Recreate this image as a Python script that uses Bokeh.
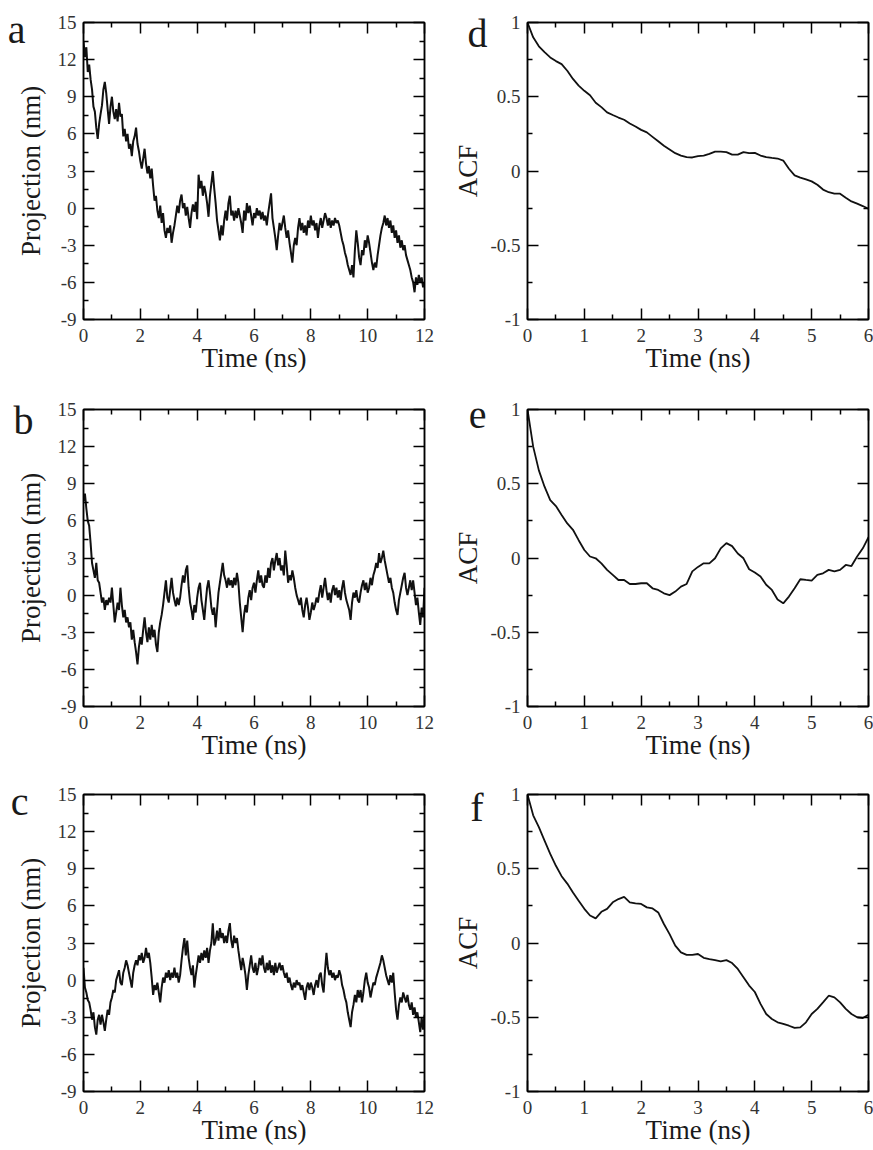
import numpy as np
from bokeh.plotting import figure
from bokeh.models import Range1d, FixedTicker, LinearAxis
from bokeh.layouts import column, row
from bokeh.embed import file_html
from bokeh.resources import INLINE

FONT = "Liberation Serif"

# ---------------- data ----------------
# projections, sampled every 0.05 ns from 0 to 12 ns
proj_a = [
    13.5, 12.2, 13.0, 11.0, 11.6, 10.4, 9.6, 8.2, 7.8, 6.5, 5.6, 6.8, 7.6, 8.3, 9.6, 10.2, 9.3, 8.0, 6.8, 8.2,
    9.0, 7.8, 7.2, 8.0, 7.0, 8.5, 7.4, 7.6, 5.8, 6.4, 5.4, 6.0, 4.8, 5.2, 4.2, 5.4, 5.8, 6.5, 5.2, 4.6,
    3.8, 3.2, 4.0, 4.8, 3.6, 2.8, 3.4, 2.4, 3.2, 1.8, 0.6, 1.0, -0.2, -0.8, 0.2, -1.2, -0.4, -1.8, -2.4, -1.6,
    -2.0, -1.4, -2.8, -2.0, -1.4, -0.6, 0.2, -0.4, 0.6, 1.1, 0.0, 0.4, -0.6, 0.1, -0.8, -1.6, -0.4, 0.3, -0.3, 0.5,
    -0.9, 2.7, 1.6, 2.2, 1.0, 1.8, 1.2, 0.4, -0.7, 1.0, 2.0, 3.0, 1.6, 0.4, -1.0, -1.8, -2.6, -1.4, -2.2, -1.0,
    -0.2, -1.0, 0.4, 1.0, -0.6, -0.2, -1.0, -0.2, -0.8, 0.0, -0.6, -1.2, -2.0, -0.2, -1.0, 0.4, -0.4, 0.2, -0.6, -1.4,
    -0.4, -0.8, 0.0, -0.6, -0.2, -0.9, -0.3, -1.0, -0.6, -1.4, -0.4, 0.4, 1.2, -0.8, -1.6, -2.4, -3.4, -2.2, -1.2, -1.8,
    -1.2, -0.6, -1.6, -2.4, -1.8, -2.8, -3.6, -4.4, -3.0, -2.4, -3.0, -1.6, -0.8, -1.8, -1.2, -2.0, -1.4, -2.2, -1.0, -1.6,
    -0.6, -1.4, -1.0, -1.8, -1.2, -2.4, -1.4, -0.8, -1.6, -1.0, -0.4, -0.8, -1.4, -0.8, -1.6, -1.0, -1.4, -0.8, -1.2, -1.0,
    -1.4, -2.0, -2.6, -3.0, -3.6, -4.0, -4.6, -5.0, -5.4, -4.6, -5.6, -3.4, -1.8, -2.8, -4.0, -4.6, -3.4, -3.8, -2.6, -3.2,
    -2.2, -2.8, -3.6, -4.4, -5.0, -4.4, -4.8, -3.8, -3.0, -2.2, -1.6, -1.2, -0.6, -1.4, -0.8, -1.6, -1.0, -2.0, -1.4, -2.4,
    -1.8, -2.8, -2.2, -3.2, -2.6, -3.4, -3.0, -3.8, -4.2, -4.6, -5.0, -5.6, -6.0, -6.8, -5.6, -6.2, -5.4, -6.0, -5.6, -6.4,
    -6.0,
]
proj_b = [
    7.6, 8.2, 7.0, 6.0, 5.6, 4.2, 2.6, 2.0, 1.4, 2.6, 1.2, 1.0, 0.2, -0.6, -0.2, -1.2, -0.4, -0.8, -0.2, -0.6,
    0.6, -0.8, -2.2, -1.4, -0.6, -1.2, 0.6, -0.8, -1.8, -1.2, -2.2, -1.8, -2.6, -2.2, -3.6, -2.8, -3.8, -4.6, -5.6, -4.2,
    -3.4, -4.0, -2.8, -1.8, -3.0, -3.8, -2.6, -3.6, -2.4, -3.4, -2.8, -4.0, -4.6, -3.0, -2.2, -1.6, -0.8, 0.2, 1.2, -0.2,
    -0.6, 0.4, 1.4, 0.2, -0.4, -0.9, -0.2, -0.8, -0.2, 0.8, 1.6, 1.0, 2.0, 2.4, 0.6, -0.6, -1.2, -2.0, -0.8, -1.4,
    -0.2, 0.6, 1.0, -0.4, -1.2, -2.0, -0.6, 0.6, 1.2, 0.2, -1.0, -1.6, -1.0, -2.6, -1.2, 0.2, 1.0, 1.8, 2.6, 1.6,
    1.2, 0.6, 1.4, 0.8, 1.2, 0.6, 1.4, 0.8, 1.8, 1.0, -0.6, -1.8, -3.0, -1.6, -0.8, -1.4, -0.2, 0.4, -0.4, 0.6,
    1.0, 0.2, 1.2, 2.0, 1.0, 1.6, 0.8, 0.6, 1.6, 1.0, 2.2, 1.4, 2.6, 3.0, 2.0, 2.8, 3.4, 2.4, 3.0, 2.0,
    2.4, 1.6, 3.6, 2.4, 1.0, 1.6, 1.2, 2.0, 1.4, 0.6, 0.0, -0.4, -0.8, -0.2, -1.2, -1.8, -0.8, -0.2, -1.0, -2.0,
    -1.4, -0.6, -1.2, -0.8, -0.2, -0.6, 0.2, 0.8, -0.2, 0.6, 1.4, 0.4, -0.4, 0.2, -0.6, 0.4, 0.8, 0.0, 0.6, -0.2,
    0.4, -0.4, 0.6, 1.2, 0.2, -0.4, -0.8, -1.2, -2.0, -0.6, 0.2, -0.2, 0.4, -0.4, -0.6, 0.2, 0.8, 1.2, 0.4, 1.0,
    0.2, 0.6, 1.4, 0.8, 1.6, 2.0, 2.6, 2.2, 3.4, 2.6, 3.0, 3.6, 2.8, 2.2, 1.6, 1.0, 1.4, 0.6, 0.2, -0.6,
    -1.2, -1.6, -0.4, 0.2, 0.8, 1.4, 1.8, 0.6, 0.0, 0.6, 1.2, 0.4, 1.2, 0.2, -0.8, -0.2, -1.4, -2.4, -1.0, -1.8,
    0.6,
]
proj_c = [
    1.0, -0.6, -1.0, -1.6, -1.8, -2.4, -3.2, -2.6, -3.8, -4.4, -3.2, -2.8, -3.6, -2.8, -3.4, -4.1, -3.2, -2.4, -2.8, -1.8,
    -1.4, -0.8, -1.0, 0.0, 0.4, 0.8, -0.2, -0.4, 0.6, 1.0, 1.6, 1.2, 0.6, 0.0, -0.6, 0.6, 1.2, 1.6, 1.2, 2.0,
    1.6, 2.2, 1.4, 1.8, 2.6, 1.8, 2.2, 1.4, 0.2, -1.2, -0.4, -0.8, -0.2, -1.0, -1.8, -0.6, 0.2, -0.2, 0.6, 0.2,
    0.8, 0.0, 0.6, 0.2, 1.0, 0.2, 0.6, -0.2, 0.4, 1.6, 2.6, 3.4, 2.0, 3.2, 1.8, 1.0, 0.4, 1.2, -0.6, 0.4,
    1.2, 2.0, 1.4, 2.2, 1.6, 2.4, 1.8, 2.6, 1.4, 2.4, 3.0, 4.6, 2.8, 3.2, 4.0, 3.2, 4.2, 3.4, 3.8, 3.0,
    3.6, 3.0, 4.0, 4.6, 3.2, 2.6, 3.6, 3.0, 3.4, 2.4, 1.6, 0.8, 1.8, 1.2, 0.4, -0.8, 0.4, 1.2, 2.0, 1.0,
    0.6, 1.4, 0.4, 1.0, 1.8, 1.2, 2.0, 1.0, 0.6, 1.4, 0.8, 1.6, 0.6, 1.2, 0.4, 1.4, 0.6, 1.0, 1.4, 0.8,
    1.2, 0.6, 0.2, 0.6, -0.2, 0.2, -0.4, -0.8, -0.2, -0.6, 0.0, -0.4, -0.2, -0.8, -0.4, -1.0, -1.6, -0.6, -0.2, -0.8,
    -0.2, -0.6, -1.2, -0.4, 0.0, -0.6, 0.4, 0.6, -0.4, -1.0, 0.8, 2.2, 1.0, 0.4, 0.8, 0.2, 0.6, 0.0, 0.4, 0.2,
    0.8, 0.4, -0.4, -0.8, -1.4, -1.8, -2.6, -3.2, -3.8, -2.6, -2.0, -1.2, -1.8, -0.8, -1.4, -0.8, -1.8, -1.0, 0.0, 0.6,
    -0.2, -0.6, -1.4, -0.8, -0.2, -0.4, 0.2, 0.6, 1.0, 1.4, 2.0, 1.6, 1.0, 0.4, 0.0, -0.4, 0.4, -0.2, 0.6, -1.0,
    -2.4, -3.2, -2.0, -1.4, -1.8, -1.0, -1.4, -1.8, -1.2, -2.0, -2.4, -1.8, -2.8, -2.2, -3.0, -2.6, -3.4, -4.2, -3.0, -4.0,
    -2.8,
]
# autocorrelation functions, sampled every 0.1 ns from 0 to 6 ns
acf_d = [1.0, 0.90, 0.84, 0.80, 0.765, 0.74, 0.72, 0.675, 0.62, 0.575, 0.54, 0.51, 0.46, 0.43, 0.395, 0.377,
         0.36, 0.345, 0.32, 0.30, 0.277, 0.26, 0.23, 0.20, 0.17, 0.145, 0.12, 0.104, 0.093, 0.091, 0.10, 0.104,
         0.115, 0.13, 0.13, 0.127, 0.11, 0.11, 0.127, 0.12, 0.122, 0.104, 0.093, 0.088, 0.084, 0.07, 0.015,
         -0.03, -0.045, -0.057, -0.07, -0.093, -0.125, -0.143, -0.153, -0.153, -0.18, -0.205, -0.22, -0.236, -0.254]
acf_e = [1.0, 0.75, 0.59, 0.48, 0.39, 0.35, 0.29, 0.233, 0.19, 0.12, 0.054, 0.01, -0.002, -0.036, -0.08, -0.114,
         -0.148, -0.148, -0.175, -0.175, -0.17, -0.17, -0.204, -0.215, -0.238, -0.25, -0.226, -0.193, -0.175,
         -0.09, -0.06, -0.036, -0.036, -0.002, 0.065, 0.10, 0.08, 0.03, -0.002, -0.076, -0.098, -0.125, -0.18,
         -0.215, -0.28, -0.305, -0.26, -0.204, -0.143, -0.148, -0.152, -0.114, -0.103, -0.08, -0.09, -0.08,
         -0.047, -0.054, 0.01, 0.065, 0.14]
acf_f = [1.0, 0.86, 0.78, 0.69, 0.60, 0.52, 0.45, 0.40, 0.34, 0.285, 0.23, 0.185, 0.166, 0.21, 0.23, 0.274,
         0.296, 0.31, 0.274, 0.267, 0.263, 0.24, 0.233, 0.206, 0.128, 0.06, -0.018, -0.063, -0.08, -0.08, -0.074,
         -0.10, -0.108, -0.115, -0.123, -0.115, -0.135, -0.175, -0.23, -0.287, -0.33, -0.41, -0.478, -0.512,
         -0.534, -0.545, -0.557, -0.572, -0.568, -0.534, -0.478, -0.444, -0.40, -0.355, -0.366, -0.40, -0.444,
         -0.478, -0.50, -0.505, -0.483]

# axes / ticks
proj_xticks = [0, 2, 4, 6, 8, 10, 12]
proj_xminor = [1, 3, 5, 7, 9, 11]
proj_yticks = [-9, -6, -3, 0, 3, 6, 9, 12, 15]
proj_ytick_labels = ["-9", "-6", "-3", "0", "3", "6", "9", "12", "15"]
proj_yminor = [-7.5, -4.5, -1.5, 1.5, 4.5, 7.5, 10.5, 13.5]
acf_xticks = [0, 1, 2, 3, 4, 5, 6]
acf_xminor = [0.5, 1.5, 2.5, 3.5, 4.5, 5.5]
acf_yticks = [-1, -0.5, 0, 0.5, 1]
acf_ytick_labels = ["-1", "-0.5", "0", "0.5", "1"]
acf_yminor = [-0.75, -0.25, 0.25, 0.75]

x_title = "Time (ns)"
proj_title = "Projection (nm)"
acf_title = "ACF"
panel_letters = ["a", "b", "c", "d", "e", "f"]

TXT = "#1a1a1a"
TICKTXT = "#333333"
FRAME_W, FRAME_H = 341, 297
LETTER_PX = 40


def style_axis(ax, major, minor, show_labels, standoff=7, overrides=None):
    ax.ticker = FixedTicker(ticks=major, minor_ticks=minor)
    ax.axis_line_color = "black"
    ax.axis_line_width = 1.5
    ax.major_tick_in = 11
    ax.major_tick_out = 0
    ax.minor_tick_in = 5
    ax.minor_tick_out = 0
    ax.major_tick_line_color = "black"
    ax.major_tick_line_width = 1.5
    ax.minor_tick_line_color = "black"
    ax.minor_tick_line_width = 1.5
    if show_labels:
        ax.major_label_text_font = FONT
        ax.major_label_text_font_size = "19px"
        ax.major_label_text_color = TICKTXT
        ax.major_label_standoff = standoff
        if overrides:
            ax.major_label_overrides = overrides
    else:
        ax.major_label_text_font_size = "0px"
        ax.major_label_text_color = None
        ax.major_label_standoff = 0


def title_style(ax, text, standoff):
    ax.axis_label = text
    ax.axis_label_text_font = FONT
    ax.axis_label_text_font_size = "27px"
    ax.axis_label_text_font_style = "normal"
    ax.axis_label_text_color = TXT
    ax.axis_label_standoff = standoff


def letter_axis(p, yr, letter, letter_dy, standoff):
    # panel letter drawn as the single label of an outer, line-less left axis
    mid = 0.3375 * LETTER_PX
    ly = round(yr[1] - (letter_dy - mid) * (yr[1] - yr[0]) / FRAME_H, 4)
    ax = LinearAxis()
    ax.ticker = FixedTicker(ticks=[ly], minor_ticks=[])
    ax.major_label_overrides = {ly: letter}
    ax.axis_line_color = None
    ax.major_tick_line_color = None
    ax.minor_tick_line_color = None
    ax.major_tick_in = 0
    ax.major_tick_out = 0
    ax.minor_tick_in = 0
    ax.minor_tick_out = 0
    ax.major_label_text_font = FONT
    ax.major_label_text_font_size = f"{LETTER_PX}px"
    ax.major_label_text_color = TXT
    ax.major_label_standoff = standoff
    p.add_layout(ax, "left")


def make_panel(vals, tmax, yr, xt, xm, yt, ym, ylabels, ytitle, ytitle_so, letter, letter_dy,
               letter_so, bl, br, bt, bb, lw):
    p = figure(frame_width=FRAME_W, frame_height=FRAME_H,
               x_range=Range1d(0, tmax), y_range=Range1d(*yr),
               output_backend="svg", toolbar_location=None,
               min_border_left=bl, min_border_right=br,
               min_border_top=bt, min_border_bottom=bb,
               background_fill_color="white", border_fill_color="white",
               outline_line_color="black", outline_line_width=1.5)
    p.xgrid.visible = False
    p.ygrid.visible = False
    style_axis(p.xaxis[0], xt, xm, True, standoff=9)
    style_axis(p.yaxis[0], yt, ym, True, standoff=7,
               overrides={v: s for v, s in zip(yt, ylabels)})
    title_style(p.xaxis[0], x_title, -2)
    title_style(p.yaxis[0], ytitle, ytitle_so)
    top = LinearAxis()
    style_axis(top, xt, xm, False)
    p.add_layout(top, "above")
    right = LinearAxis()
    style_axis(right, yt, ym, False)
    p.add_layout(right, "right")
    letter_axis(p, yr, letter, letter_dy, letter_so)

    t = np.linspace(0, tmax, len(vals))
    p.line(t, vals, line_color="#111111", line_width=lw)
    return p


# page coordinates: left frame 83..424, right frame 527..868
rows_b = [(22, 68), (22, 66), (22, 59)]
left_specs = [(proj_a, panel_letters[0], 20, -13), (proj_b, panel_letters[1], 24, -21),
              (proj_c, panel_letters[2], 20, -16)]
right_specs = [(acf_d, panel_letters[3], 25, -37), (acf_e, panel_letters[4], 19, -36),
               (acf_f, panel_letters[5], 26, -33)]

rows = []
for (bt, bb), (pv, pl, pdy, pso), (av, al, ady, aso) in zip(rows_b, left_specs, right_specs):
    left = make_panel(pv, 12, (-9, 15), proj_xticks, proj_xminor, proj_yticks, proj_yminor,
                      proj_ytick_labels, proj_title, 9, pl, pdy, pso, 83, 22, bt, bb, 2.0)
    rightp = make_panel(av, 6, (-1, 1), acf_xticks, acf_xminor, acf_yticks, acf_yminor,
                        acf_ytick_labels, acf_title, 4, al, ady, aso, 81, 5, bt, bb, 1.8)
    rows.append(row(left, rightp))

layout = column(*rows)
open("out.html", "w").write(file_html(layout, INLINE))
